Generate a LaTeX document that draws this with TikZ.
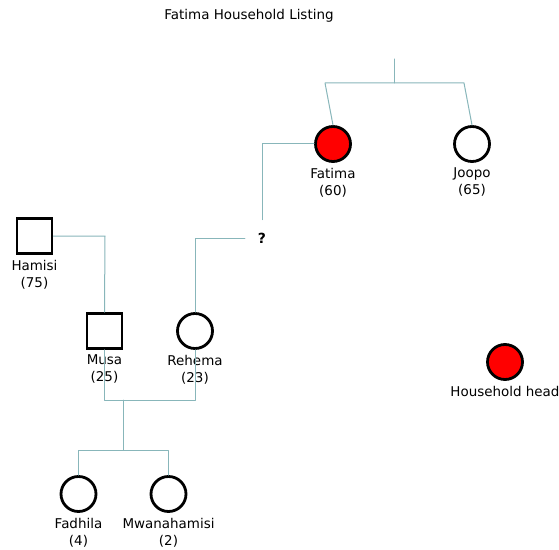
\documentclass[tikz,border=0pt]{standalone}
\usepackage{fontspec}
\setmainfont{DejaVu Sans}
\definecolor{kinline}{HTML}{88B6BA}

\begin{document}
\begin{tikzpicture}[line cap=round,line join=round,x=1bp,y=-1bp,
    female/.style={circle,draw=black,line width=2.8bp,minimum size=35bp,inner sep=0pt},
    male/.style={rectangle,draw=black,line width=2.8bp,line join=miter,minimum size=35bp,inner sep=0pt},
    hhead/.style={female,fill=red},
    kin/.style={kinline,line width=1bp},
    tag/.style={align=center,font=\fontsize{13.5}{17}\selectfont,inner sep=0pt,label distance=5bp}]

    \useasboundingbox (0,0) rectangle (559,550);

    \node[font=\fontsize{13.5}{17}\selectfont] (title) at (249,16) {Fatima Household Listing};

    % first generation
    \draw (333,144) node[hhead] (Fatima) [label={[tag]below:{Fatima\\(60)}}] {};
    \draw (472,144) node[female] (Joopo) [label={[tag]below:{Joopo\\(65)}}] {};
    \draw (262,238) node[font=\fontsize{14}{17}\selectfont\bfseries,inner sep=13bp] (q) {?};
    \draw (34.5,236) node[male] (Hamisi) [label={[tag]below:{Hamisi\\(75)}}] {};

    % second generation
    \draw (104.5,331) node[male] (Musa) [label={[tag]below:{Musa\\(25)}}] {};
    \draw (195,331) node[female] (Rehema) [label={[tag]below:{Rehema\\(23)}}] {};

    % third generation
    \draw (78.5,494) node[female] (Fadhila) [label={[tag]below:{Fadhila\\(4)}}] {};
    \draw (168.5,494) node[female] (Mwanahamisi) [label={[tag]below:{Mwanahamisi\\(2)}}] {};

    % legend
    \draw (505,362) node[hhead] (legend) [label={[tag]below:{Household head}}] {};

    % family lines
    \coordinate (top) at (394,59);
    \coordinate (union) at (123.7,400);
    \draw[kin] (top) -- (394,83);
    \draw[kin] (Fatima.north) -- (325,83) -- (464,83) -- (Joopo.north);
    \draw[kin] (Fatima.west) -- (262,144) -- (q.north);
    \draw[kin] (q.west) -- (195,238) -- (Rehema.north);
    \draw[kin] (Hamisi.east) -- (105,236) -- (Musa.north);
    \draw[kin] (Musa.south) -- (104.5,400) -- (195,400) -- (Rehema.south);
    \draw[kin] (union) -- (123.7,450);
    \draw[kin] (Fadhila.north) -- (78.5,450) -- (168.5,450) -- (Mwanahamisi.north);

\end{tikzpicture}
\end{document}
